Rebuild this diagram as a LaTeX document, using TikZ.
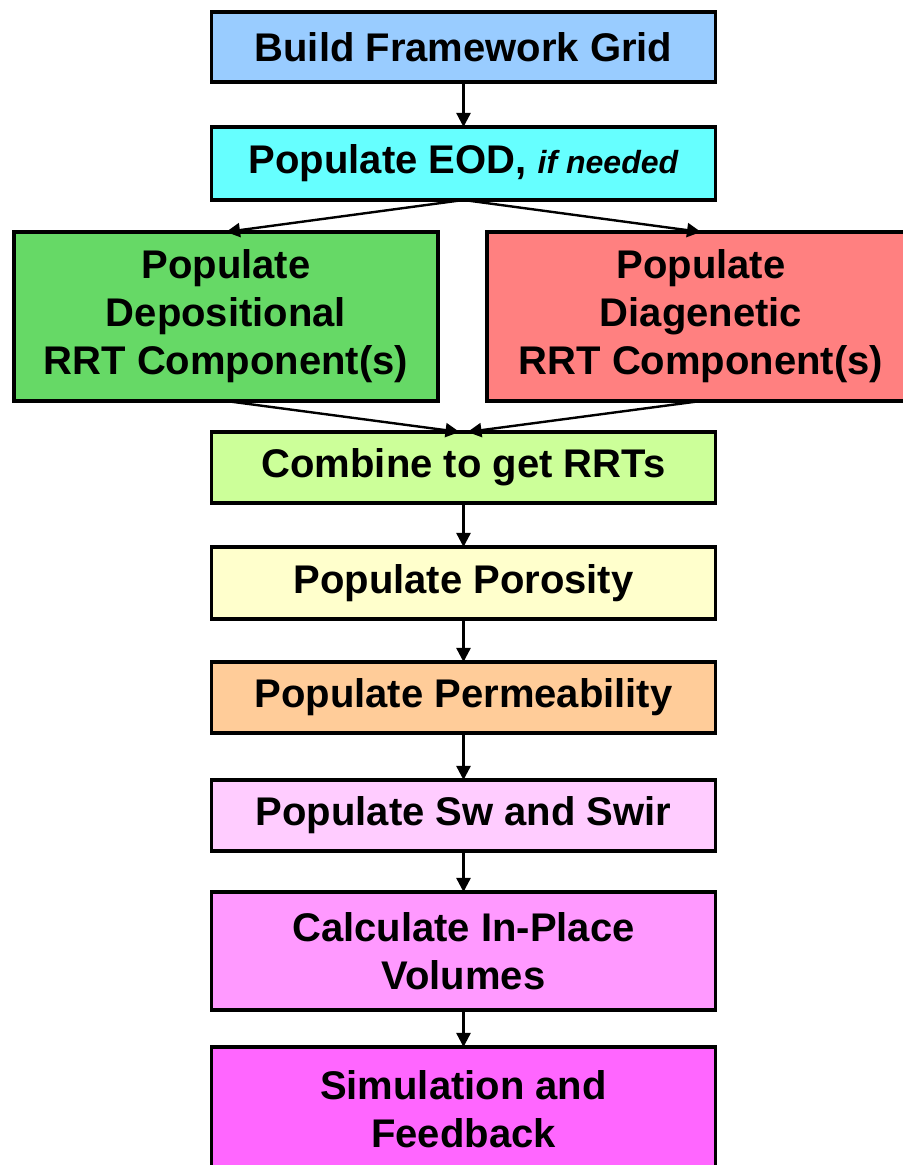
\documentclass[tikz,border=0pt]{standalone}
\usepackage{fontspec}
\setmainfont{Liberation Sans}
\usetikzlibrary{arrows.meta}
\usetikzlibrary{positioning}
\usetikzlibrary{calc}
\definecolor{gridBlue}{HTML}{99CCFF}
\definecolor{eodCyan}{HTML}{66FFFF}
\definecolor{depoGreen}{HTML}{66D966}
\definecolor{diagRed}{HTML}{FF8080}
\definecolor{rrtLime}{HTML}{CCFF99}
\definecolor{poroYellow}{HTML}{FFFFCC}
\definecolor{permOrange}{HTML}{FFCC99}
\definecolor{swPink}{HTML}{FFCCFF}
\definecolor{volMagenta}{HTML}{FF99FF}
\definecolor{simMagenta}{HTML}{FF66FF}
\tikzset{
	stepBox/.style={rectangle, draw=black, line width=1.6pt, outer sep=0pt, inner sep=2pt,
		align=center, minimum width=252pt, font=\fontsize{20}{24}\selectfont\bfseries},
	flow/.style={-{Triangle[length=7pt,width=7pt]}, line width=1.2pt},
}
\begin{document}
\begin{tikzpicture} [x=1pt, y=1pt, node distance = 22pt]
		
		% fix the page to the reference size and cut off what runs past it
		\useasboundingbox (0,0) rectangle (451.5,582.5);
		\clip (0,0) rectangle (451.5,582.5);
		
		% first box - the rest of the chain hangs below it
		\node[stepBox, fill=gridBlue, minimum height=35pt] (grid) at (231.75,559) {Build Framework Grid};
		\node[stepBox, fill=eodCyan, minimum height=36.5pt, below = 22.5pt of grid] (eod)
			{Populate EOD, {\fontsize{16}{19}\selectfont\itshape if needed}};
		
		% the two RRT component boxes, shifted left and right of the column
		\node[stepBox, fill=depoGreen, minimum width=212pt, minimum height=84.5pt,
			below = 16pt of eod, xshift=-118.75pt] (depo) {Populate\\Depositional\\RRT Component(s)};
		\node[stepBox, fill=diagRed, minimum width=214pt, minimum height=84.5pt,
			below = 16pt of eod, xshift=118.75pt] (diag) {Populate\\Diagenetic\\RRT Component(s)}; % right side runs off the page
		
		% back to the main column
		\coordinate (join) at (depo.south -| eod.south);
		\node[stepBox, fill=rrtLime, minimum height=35.5pt, below = 15.5pt of join] (rrt) {Combine to get RRTs};
		\node[stepBox, fill=poroYellow, minimum height=36pt, below = 22pt of rrt] (poro) {Populate Porosity};
		\node[stepBox, fill=permOrange, minimum height=35.5pt, below = 21.5pt of poro] (perm) {Populate Permeability};
		\node[stepBox, fill=swPink, minimum height=35.5pt, below = 23.5pt of perm] (sw) {Populate Sw and Swir};
		\node[stepBox, fill=volMagenta, minimum height=59pt, below = 20.5pt of sw] (vol) {Calculate In-Place\\Volumes};
		\node[stepBox, fill=simMagenta, minimum height=62pt, below = 18.5pt of vol] (sim) {Simulation and\\Feedback}; % runs off the page
		
		% split and merge arrows
		\draw[flow] (grid) -- (eod);
		\draw[flow] (eod.south) -- (depo.north);
		\draw[flow] (eod.south) -- (diag.north);
		\draw[flow] (depo.south) -- ([xshift=-2pt]rrt.north);
		\draw[flow] (diag.south) -- ([xshift=2pt]rrt.north);
		
		% straight chain down the column
		\draw[flow] (rrt) -- (poro);
		\draw[flow] (poro) -- (perm);
		\draw[flow] (perm) -- (sw);
		\draw[flow] (sw) -- (vol);
		\draw[flow] (vol) -- (sim);
		
	\end{tikzpicture}
\end{document}
